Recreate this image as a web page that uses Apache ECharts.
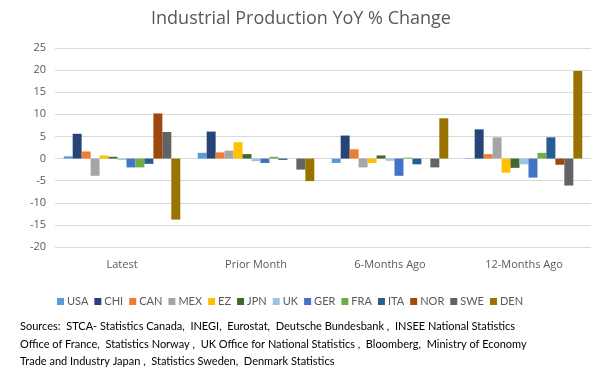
<!DOCTYPE html>
<html>
<head>
<meta charset="utf-8">
<script src="https://cdn.jsdelivr.net/npm/echarts@6/dist/echarts.min.js"></script>
<style>
  html, body { margin: 0; padding: 0; background: #fff; }
  #chart { width: 602px; height: 376px; }
</style>
</head>
<body>
<div id="chart"></div>
<script>
// periods on the x axis
const periods = ['Latest', 'Prior Month', '6-Months Ago', '12-Months Ago']
const countries = ['USA', 'CHI', 'CAN', 'MEX', 'EZ', 'JPN', 'UK', 'GER', 'FRA', 'ITA', 'NOR', 'SWE', 'DEN']
const colors = ['#5B9BD5', '#264478', '#ED7D31', '#A5A5A5', '#FFC000', '#43682B',
  '#9DC3E6', '#4472C4', '#70AD47', '#255E91', '#9E480E', '#636363', '#997300']

// YoY % change per country, one value per period
const usa = [0.5, 1.3, -1.0, 0.1]
const chi = [5.6, 6.1, 5.2, 6.6]
const can = [1.6, 1.4, 2.1, 1.0]
const mex = [-3.9, 1.8, -2.0, 4.8]
const ez = [0.7, 3.7, -1.0, -3.2]
const jpn = [0.4, 1.0, 0.7, -2.1]
const uk = [-0.3, -0.6, -0.5, -1.3]
const ger = [-2.0, -1.0, -3.9, -4.3]
const fra = [-2.0, 0.4, 0.2, 1.3]
const ita = [-1.2, -0.3, -1.3, 4.8]
const nor = [10.2, 0.0, 0.0, -1.4]
const swe = [6.0, -2.5, -2.0, -6.1]
const den = [-13.8, -5.1, 9.1, 19.8]
const values = [usa, chi, can, mex, ez, jpn, uk, ger, fra, ita, nor, swe, den]

const sourceLines = [
  'Sources:  STCA- Statistics Canada,  INEGI,  Eurostat,  Deutsche Bundesbank ,  INSEE National Statistics',
  'Office of France,  Statistics Norway ,  UK Office for National Statistics ,  Bloomberg,  Ministry of Economy',
  'Trade and Industry Japan ,  Statistics Sweden,  Denmark Statistics'
]

const chart = echarts.init(document.getElementById('chart'))

const option = {
  animation: false,
  color: colors,
  title: {
    text: 'Industrial Production YoY % Change',
    left: 'center',
    top: 5,
    textStyle: { fontFamily: 'Open Sans', fontSize: 18, fontWeight: 'normal', color: '#595959' }
  },
  legend: {
    data: countries,
    top: 291,
    left: 52,
    icon: 'rect',
    itemWidth: 7,
    itemHeight: 7,
    itemGap: 6,
    textStyle: { fontFamily: 'Lato', fontSize: 11, color: '#595959', padding: [0, 0, 0, -2] }
  },
  grid: { left: 55, right: 11, top: 48, height: 199 },
  xAxis: {
    type: 'category',
    data: periods,
    axisLine: { show: false },
    axisTick: { show: false },
    axisLabel: { color: '#595959', fontFamily: 'Open Sans', fontSize: 11, margin: 12 }
  },
  yAxis: {
    type: 'value',
    min: -20,
    max: 25,
    interval: 5,
    axisLine: { show: false },
    axisTick: { show: false },
    axisLabel: { color: '#595959', fontFamily: 'Open Sans', fontSize: 11, margin: 9 },
    splitLine: { lineStyle: { color: '#D9D9D9', width: 1 } }
  },
  series: countries.map((name, i) => ({
    name: name,
    type: 'bar',
    data: values[i],
    barGap: '0%',
    barCategoryGap: '13%'
  })),
  graphic: [{
    type: 'text',
    left: 20,
    top: 318,
    style: {
      text: sourceLines.join('\n'),
      fontFamily: 'Lato',
      fontSize: 11,
      lineHeight: 17.5,
      fill: '#000'
    }
  }]
}

chart.setOption(option)
</script>
</body>
</html>
